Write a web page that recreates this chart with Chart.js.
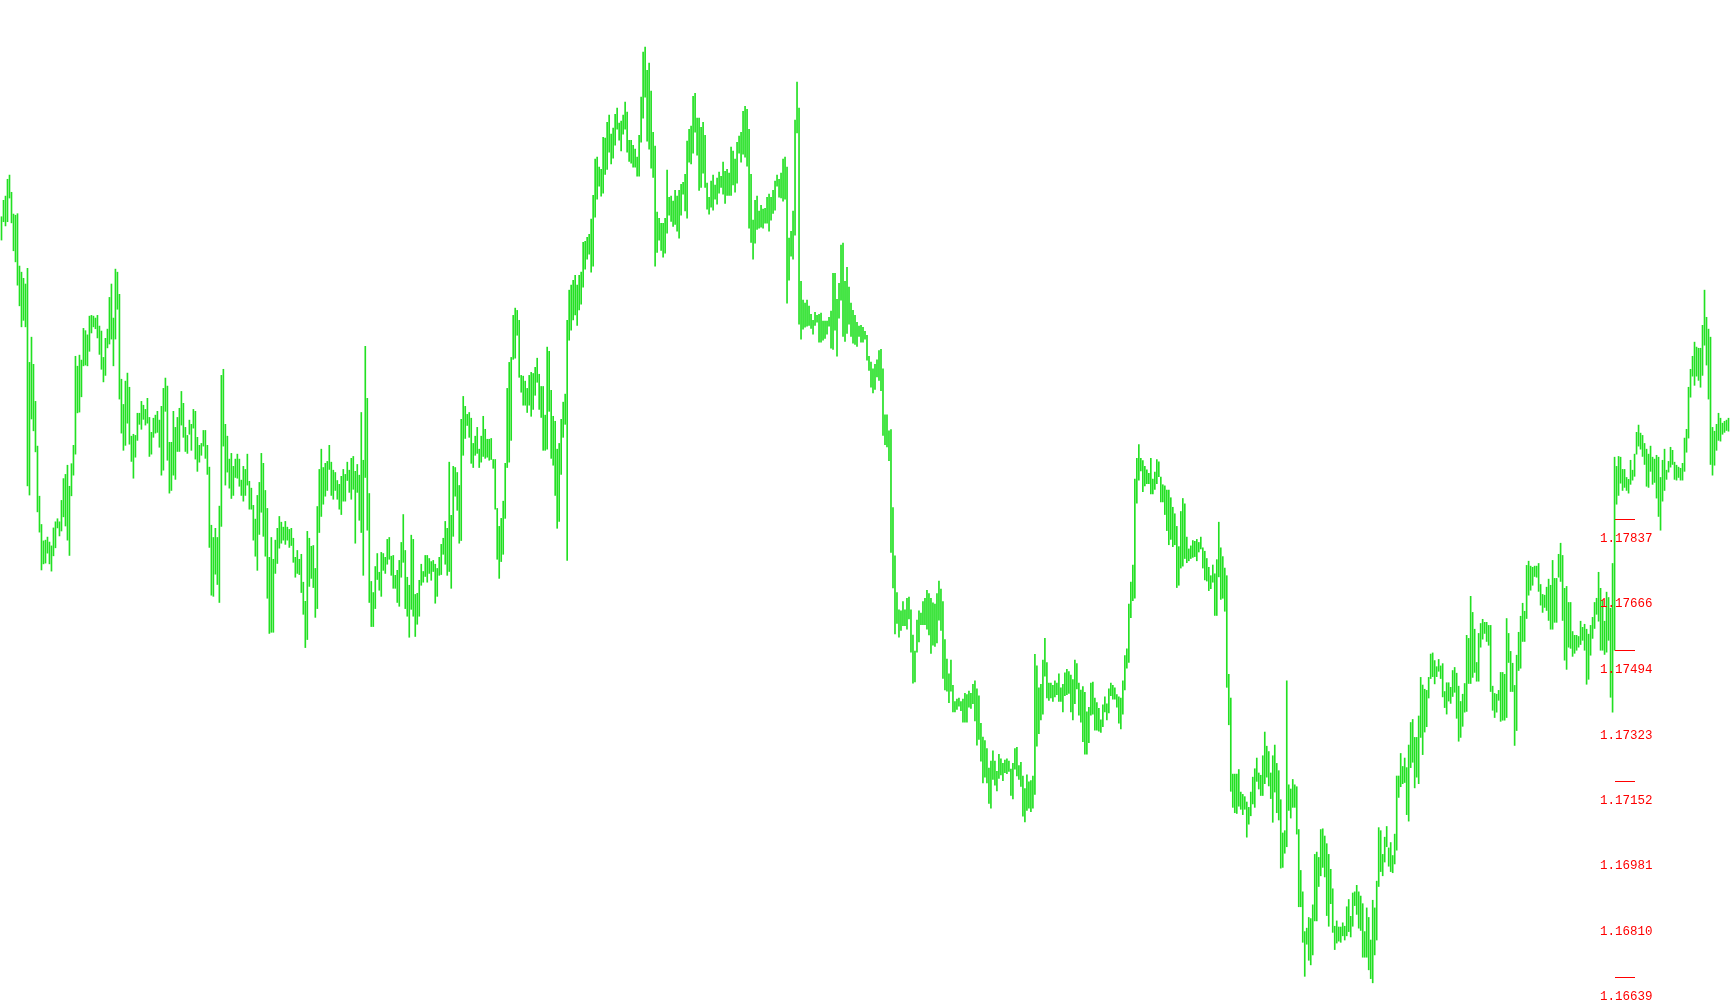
<!DOCTYPE html>
<html>
<head>
<meta charset="utf-8">
<script src="https://cdn.jsdelivr.net/npm/chart.js@4.4.1/dist/chart.umd.min.js"></script>
<style>
  html, body { margin: 0; padding: 0; background: #ffffff; }
  canvas { display: block; }
</style>
</head>
<body>
<canvas id="chart-1" width="1730" height="1005"></canvas>
<script>
// price axis range (visible window)
const priceTop = 1.19195;
const priceBottom = 1.16566;

// right side price labels and the short level marks
const tickLabels = ['1.17837', '1.17666', '1.17494', '1.17323', '1.17152', '1.16981', '1.16810', '1.16639'];
const markLevels = [1.17837, 1.17494, 1.17152, 1.16639];

// bar highs, in points (1e-5)
const barHigh = [
  118628,118671,118682,118726,118737,118692,118635,118632,118636,118499,
  118483,118467,118452,118493,118247,118313,118242,118145,118028,117897,
  117823,117780,117782,117790,117777,117767,117814,117830,117838,117830,
  117886,117943,117954,117978,117923,117982,118030,118263,118237,118266,
  118253,118336,118330,118319,118368,118370,118368,118363,118370,118342,
  118329,118260,118310,118334,118417,118452,118363,118491,118483,118425,
  118203,118137,118198,118219,118182,118054,118059,118056,118114,118114,
  118145,118135,118124,118153,118103,118064,118101,118109,118119,118096,
  118132,118179,118206,118185,118038,118038,118119,118077,118103,118127,
  118171,118140,118077,118056,118096,118085,118124,118119,118051,118030,
  118035,118069,118069,118030,117973,117821,117789,117813,117789,117871,
  118213,118229,118085,118054,117994,118009,117975,117994,118007,117994,
  117939,117975,117967,118007,117936,117918,117873,117837,117899,117933,
  118009,117983,117912,117865,117737,117789,117732,117782,117813,117844,
  117829,117816,117831,117816,117810,
  117813,117787,117737,117755,117732,117745,117672,117622,117805,117787,
  117766,117768,117708,117870,117967,118020,117972,117983,117988,118030,
  117986,117965,117959,117938,117928,117949,117967,117954,117986,117965,
  117996,118001,117962,117980,117952,118116,117991,118289,118153,117904,
  117674,117645,117713,117747,117698,117750,117747,117737,117784,117789,
  117740,117742,117690,117703,117729,117776,117849,117755,117685,117664,
  117795,117784,117640,117643,117677,117719,117700,117742,117742,117734,
  117726,117729,117719,117708,117737,117771,117787,117831,117813,117986,
  117847,117975,117972,117959,117925,118098,118158,118132,118111,118116,
  118101,118035,118054,118077,118020,118054,118106,118072,118046,118046,
  118048,117993,117993,117865,117818,117839,117884,117983,118179,118247,
  118260,118370,118389,118383,118357,118213,118211,118198,118179,118213,
  118221,118218,118234,118258,118216,118184,118184,118109,118287,118276,
  118174,118106,118093,118020,118035,118098,118143,118164,118357,118436,
  118449,118462,118475,118449,118475,
  118483,118561,118564,118574,118582,118622,118684,118779,118784,118758,
  118752,118836,118834,118875,118894,118844,118860,118896,118912,118873,
  118878,118894,118928,118902,118828,118828,118815,118805,118784,118841,
  118941,119059,119072,119011,119030,118957,118849,118813,118640,118624,
  118611,118611,118624,118750,118679,118682,118669,118697,118682,118697,
  118713,118718,118739,118826,118857,118865,118943,118951,118886,118886,
  118862,118875,118841,118716,118679,118721,118737,118711,118729,118745,
  118734,118771,118747,118752,118742,118810,118800,118779,118823,118839,
  118849,118904,118917,118909,118857,118739,118619,118671,118682,118643,
  118658,118648,118650,118679,118687,118679,118697,118721,118737,118726,
  118742,118779,118784,118758,118572,118590,118643,118881,118980,118912,
  118459,118410,118402,118410,118394,118373,118357,118378,118370,118373,
  118376,118355,118355,118355,118365,118381,118480,118480,118412,118454,
  118554,118559,118459,118496,118444,118402,118383,118370,118352,118342,
  118344,118339,118328,118318,118263,
  118248,118230,118242,118254,118278,118281,118230,118110,118110,118068,
  118071,117867,117741,117645,117600,117597,117621,117600,117630,117633,
  117600,117534,117492,117573,117597,117591,117621,117630,117651,117642,
  117630,117618,117615,117642,117675,117654,117621,117522,117471,117432,
  117468,117402,117360,117366,117369,117360,117366,117381,117378,117387,
  117381,117405,117414,117393,117375,117303,117267,117258,117237,117186,
  117204,117231,117204,117177,117222,117210,117198,117207,117210,117204,
  117183,117198,117237,117240,117192,117201,117165,117132,117168,117150,
  117153,117165,117483,117453,117396,117405,117468,117525,117462,117408,
  117408,117402,117414,117408,117432,117396,117405,117435,117444,117438,
  117429,117417,117468,117459,117408,117390,117399,117384,117333,117345,
  117408,117411,117369,117357,117342,117312,117351,117372,117354,117393,
  117408,117402,117396,117378,117372,117369,117414,117480,117498,117615,
  117672,117717,117942,117996,118032,117996,117990,117975,117966,117957,
  117996,117942,117960,117993,117987,
  117947,117927,117924,117913,117913,117893,117868,117851,117818,117765,
  117857,117891,117877,117790,117759,117767,117781,117779,117784,117776,
  117790,117762,117753,117734,117711,117689,117717,117694,117731,117829,
  117762,117739,117709,117689,117431,117369,117170,117170,117170,117182,
  117123,117117,117111,117097,117083,117123,117162,117184,117212,117173,
  117167,117218,117280,117243,117229,117173,117218,117246,117198,117179,
  117103,117016,117022,117414,117142,117131,117156,117142,117137,117025,
  116918,116862,116758,116767,116795,116792,116828,116960,116966,116952,
  117025,117027,117008,116988,116960,116921,116870,116772,116786,116770,
  116770,116781,116772,116823,116842,116798,116859,116862,116879,116862,
  116851,116831,116758,116820,116795,116736,116840,116820,116890,117030,
  117022,116960,117005,117033,116977,116991,116957,117013,117165,117165,
  117224,117190,117212,117187,117246,117305,117313,117266,117266,117322,
  117423,117403,117392,117389,117423,117484,117487,117467,117451,117470,
  117453,117459,117386,117409,117409,
  117397,117441,117449,117434,117400,117360,117379,117407,117533,117525,
  117635,117593,117549,117462,117538,117564,117575,117567,117567,117559,
  117559,117400,117381,117379,117389,117436,117436,117431,117577,117538,
  117491,117460,117402,117481,117541,117583,117617,117596,117716,117727,
  117714,117711,117714,117714,117721,117666,117640,117638,117659,117680,
  117664,117729,117682,117682,117745,117774,117742,117656,117661,117619,
  117619,117543,117533,117533,117530,117570,117554,117562,117549,117536,
  117559,117580,117619,117630,117698,117656,117625,117570,117646,117632,
  117604,117721,117999,117975,118001,117999,117967,117967,117946,117941,
  117991,117965,118007,118064,118083,118062,118056,118035,118020,118007,
  118028,117999,117994,118004,117999,117946,117991,118020,117965,117988,
  118025,118017,117986,117978,117973,117970,117983,118049,118072,118182,
  118229,118263,118300,118287,118284,118284,118344,118436,118365,118334,
  118313,118077,118067,118085,118114,118101,118088,118093,118096,118101
];

// bar lows, in points (1e-5)
const barLow = [
  118567,118615,118604,118615,118677,118612,118539,118510,118449,118395,
  118340,118357,118340,117924,117900,118099,118068,118013,117856,117803,
  117704,117720,117722,117748,117720,117701,117741,117762,117814,117793,
  117806,117843,117819,117782,117742,117898,117952,118007,118115,118117,
  118157,118238,118240,118238,118276,118324,118340,118335,118311,118268,
  118229,118196,118213,118285,118295,118308,118238,118308,118386,118151,
  118062,118017,118030,118088,118033,117988,117944,117999,118043,118085,
  118072,118098,118083,118088,118001,118007,118051,118062,118064,118025,
  117952,117965,118119,117991,117905,117912,117952,117941,118014,118014,
  118083,118051,118014,118009,118059,118017,118075,117994,117962,117986,
  118004,118028,117996,117954,117763,117638,117635,117693,117666,117619,
  117818,118028,117926,117960,117918,117891,117899,117946,117944,117923,
  117899,117884,117899,117926,117863,117863,117782,117740,117703,117797,
  117855,117792,117740,117630,117538,117541,117541,117695,117721,117761,
  117774,117782,117771,117782,117763,
  117768,117724,117685,117695,117692,117645,117588,117501,117522,117661,
  117682,117658,117580,117603,117802,117844,117876,117897,117912,117967,
  117899,117889,117912,117889,117863,117849,117884,117884,117938,117907,
  117889,117915,117774,117907,117834,117802,117690,117946,117808,117619,
  117556,117556,117603,117679,117651,117635,117703,117695,117719,117732,
  117690,117656,117656,117619,117609,117685,117724,117603,117583,117528,
  117601,117583,117530,117562,117583,117664,117672,117687,117672,117695,
  117677,117700,117617,117635,117690,117692,117745,117719,117690,117700,
  117656,117792,117897,117860,117774,117781,118004,118048,118082,118051,
  117983,117972,118004,118009,117972,117986,118001,117996,117999,117991,
  117993,117970,117863,117732,117682,117726,117745,117839,117972,117986,
  118043,118255,118258,118318,118208,118169,118135,118135,118116,118135,
  118106,118124,118161,118195,118124,118103,118017,118017,118020,118119,
  117996,117978,117899,117813,117831,117954,118051,118085,117729,118305,
  118331,118358,118371,118344,118384,
  118399,118444,118491,118517,118530,118483,118499,118627,118674,118708,
  118682,118690,118739,118752,118797,118766,118781,118815,118857,118828,
  118800,118844,118857,118797,118773,118768,118758,118758,118734,118734,
  118823,118886,118941,118826,118805,118755,118731,118499,118535,118567,
  118540,118522,118533,118585,118632,118616,118603,118608,118590,118572,
  118632,118687,118643,118624,118771,118766,118794,118849,118789,118697,
  118705,118742,118705,118648,118635,118653,118645,118674,118661,118690,
  118705,118687,118663,118684,118684,118684,118711,118692,118716,118794,
  118771,118792,118784,118760,118598,118561,118517,118559,118595,118598,
  118601,118598,118611,118611,118590,118619,118637,118645,118708,118679,
  118677,118669,118674,118402,118462,118525,118517,118580,118847,118347,
  118308,118334,118339,118342,118344,118336,118321,118344,118352,118300,
  118300,118305,118310,118321,118342,118284,118281,118331,118263,118363,
  118410,118315,118302,118323,118347,118315,118297,118294,118289,118315,
  118300,118300,118308,118253,118226,
  118182,118167,118176,118209,118200,118173,118056,118032,118026,117990,
  117750,117657,117537,117564,117528,117546,117558,117558,117549,117576,
  117489,117408,117411,117489,117516,117561,117561,117561,117549,117534,
  117486,117507,117504,117513,117573,117546,117420,117390,117387,117357,
  117387,117333,117333,117339,117348,117336,117306,117306,117306,117345,
  117342,117354,117309,117246,117261,117204,117147,117162,117147,117093,
  117081,117156,117141,117126,117159,117168,117153,117174,117171,117177,
  117114,117105,117183,117165,117156,117138,117060,117045,117075,117081,
  117072,117081,117117,117243,117276,117312,117327,117426,117369,117363,
  117369,117360,117372,117378,117360,117360,117333,117375,117378,117381,
  117333,117312,117354,117393,117324,117306,117255,117222,117222,117252,
  117324,117327,117285,117285,117282,117279,117294,117333,117312,117330,
  117375,117366,117366,117345,117303,117288,117327,117390,117447,117462,
  117579,117624,117630,117879,117939,117963,117909,117924,117930,117930,
  117903,117903,117915,117930,117948,
  117882,117882,117849,117807,117770,117784,117765,117770,117658,117664,
  117709,117714,117734,117723,117728,117734,117737,117739,117728,117751,
  117759,117709,117678,117675,117650,117655,117672,117585,117585,117686,
  117627,117630,117596,117397,117299,117125,117083,117069,117067,117086,
  117078,117064,117078,117005,117039,117061,117092,117083,117151,117131,
  117114,117114,117145,117162,117139,117106,117044,117123,117069,117050,
  116924,116926,116963,116980,117075,117055,117083,117083,117013,116823,
  116823,116730,116641,116725,116683,116671,116697,116786,116786,116876,
  116904,116926,116901,116800,116772,116831,116756,116711,116728,116733,
  116730,116747,116736,116747,116758,116744,116772,116826,116803,116767,
  116761,116691,116691,116691,116658,116635,116624,116697,116736,116876,
  116915,116904,116940,116980,116929,116915,116912,116935,116971,117109,
  117137,117145,117148,117064,117047,117187,117201,117134,117162,117145,
  117266,117221,117280,117294,117369,117420,117425,117406,117425,117439,
  117420,117372,117344,117327,117361,
  117355,117373,117384,117316,117256,117266,117295,117332,117334,117407,
  117407,117423,117436,117413,117413,117502,117523,117538,117517,117507,
  117386,117337,117318,117332,117363,117308,117311,117311,117318,117462,
  117386,117386,117245,117284,117441,117447,117517,117517,117577,117638,
  117651,117664,117687,117685,117648,117612,117593,117606,117598,117572,
  117549,117549,117567,117567,117685,117674,117572,117468,117444,117502,
  117499,117478,117486,117494,117502,117509,117520,117494,117405,117418,
  117481,117525,117551,117588,117570,117494,117494,117483,117489,117520,
  117371,117332,117494,117876,117899,117931,117912,117920,117912,117905,
  117928,117939,117949,118007,118028,118020,118001,117980,117923,117920,
  117962,117928,117933,117892,117844,117808,117884,117912,117941,117960,
  117973,117980,117941,117939,117946,117939,117939,117962,118012,118049,
  118156,118211,118187,118211,118200,118182,118213,118292,118240,118151,
  117980,117952,117978,118017,118043,118041,118059,118064,118069,118067
];

const bars = barHigh.map((h, i) => ({ x: i, y: [barLow[i] / 1e5, h / 1e5] }));

const priceLabels = {
  id: 'priceLabels',
  afterDatasetsDraw(chart) {
    const ctx = chart.ctx;
    const y = chart.scales.y;
    ctx.save();
    ctx.fillStyle = '#ff0000';
    ctx.strokeStyle = '#ff0000';
    ctx.lineWidth = 1;
    ctx.font = '12.5px "Liberation Mono", "DejaVu Sans Mono", monospace';
    ctx.textAlign = 'left';
    ctx.textBaseline = 'alphabetic';
    tickLabels.forEach(t => {
      const py = Math.round(y.getPixelForValue(parseFloat(t)));
      ctx.fillText(t, 1600, py + 23);
    });
    markLevels.forEach(v => {
      const py = Math.round(y.getPixelForValue(v)) + 0.5;
      ctx.beginPath();
      ctx.moveTo(1615, py);
      ctx.lineTo(1635, py);
      ctx.stroke();
    });
    ctx.restore();
  }
};

const ctx = document.getElementById('chart-1').getContext('2d');
new Chart(ctx, {
  type: 'bar',
  data: {
    datasets: [{
      data: bars,
      backgroundColor: '#22e022',
      borderWidth: 0,
      barThickness: 1,
      grouped: false
    }]
  },
  options: {
    responsive: false,
    animation: false,
    events: [],
    layout: { padding: 0 },
    plugins: {
      legend: { display: false },
      tooltip: { enabled: false }
    },
    scales: {
      x: {
        type: 'linear',
        display: false,
        offset: false,
        bounds: 'data',
        min: -0.75,
        max: barHigh.length - 0.25
      },
      y: { display: false, min: priceBottom, max: priceTop }
    }
  },
  plugins: [priceLabels]
});
</script>
</body>
</html>
